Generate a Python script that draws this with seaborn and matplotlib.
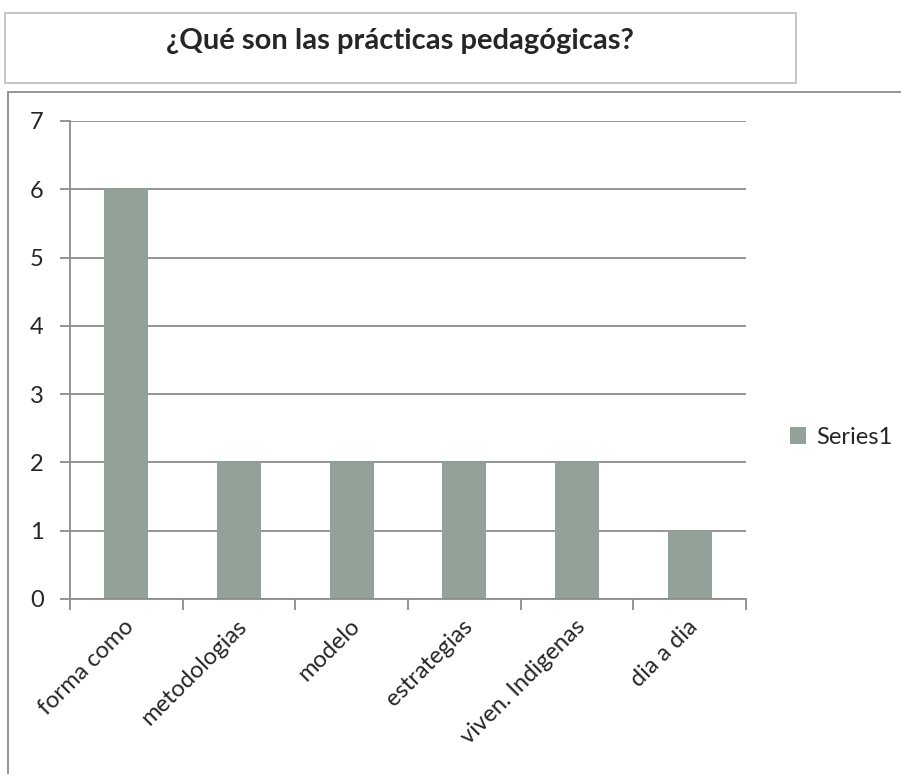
import matplotlib
matplotlib.use("Agg")
import matplotlib.pyplot as plt
from matplotlib.patches import Rectangle
from matplotlib.transforms import ScaledTranslation
import pandas as pd
import seaborn as sns

categories = ["forma como", "metodologias", "modelo", "estrategias", "viven. Indigenas", "dia a dia"]
values = [6, 2, 2, 2, 2, 1]
series_name = "Series1"
title = "¿Qué son las prácticas pedagógicas?"

bar_color = "#93a299"
grid_color = "#8c8c8c"

sns.set_theme(style="white")
plt.rcParams["font.family"] = ["Lato", "DejaVu Sans"]

df = pd.DataFrame({"categoria": categories, "valor": values, "serie": series_name})

fig = plt.figure(figsize=(9.01, 7.74), dpi=100)
ax = fig.add_axes([0.0777, 0.2261, 0.7503, 0.6176])

sns.barplot(data=df, x="categoria", y="valor", hue="serie", palette=[bar_color],
            width=0.39, dodge=False, ax=ax, saturation=1, linewidth=0)

ax.set_ylim(0, 7)
ax.set_xlim(-0.5, len(categories) - 0.5)
ax.set_yticks(range(0, 8))
ax.yaxis.grid(True, color=grid_color, linewidth=1.3)
ax.set_axisbelow(True)
for side in ["top", "right"]:
    ax.spines[side].set_visible(False)
for side in ["left", "bottom"]:
    ax.spines[side].set_color(grid_color)
    ax.spines[side].set_linewidth(1.3)

ax.set_xlabel("")
ax.set_ylabel("")
ax.tick_params(axis="y", length=7, width=1.3, color=grid_color, labelsize=17, pad=12, left=True)
ax.set_xticks([i - 0.5 for i in range(len(categories) + 1)], minor=True)
ax.tick_params(axis="x", which="minor", length=8, width=1.3, color=grid_color, bottom=True)
ax.tick_params(axis="x", which="major", length=0, labelsize=17, pad=12)
ax.set_xticks(range(len(categories)))
ax.set_xticklabels(categories, rotation=45, ha="right", va="top", rotation_mode="anchor")
for lab in ax.get_xticklabels():
    lab.set_transform(lab.get_transform() + ScaledTranslation(-0.03, 0, fig.dpi_scale_trans))

sns.move_legend(ax, "center left", bbox_to_anchor=(0.853, 0.435),
                bbox_transform=fig.transFigure, frameon=False, title=None,
                fontsize=17, handlelength=0.7, handleheight=0.7, handletextpad=0.4)

# title box and chart frame
fig.patches.append(Rectangle((0.0055, 0.8928), 0.8779, 0.0904, transform=fig.transFigure,
                             fill=False, edgecolor="#c0c0c0", linewidth=1.3))
fig.patches.append(Rectangle((0.0089, -0.1), 1.2, 0.9811, transform=fig.transFigure,
                             fill=False, edgecolor="#8c8c8c", linewidth=1.3))
fig.text(0.4444, 0.9475, title, ha="center", va="center", fontsize=21, fontweight="bold")

fig.savefig("out.png", dpi=100)
